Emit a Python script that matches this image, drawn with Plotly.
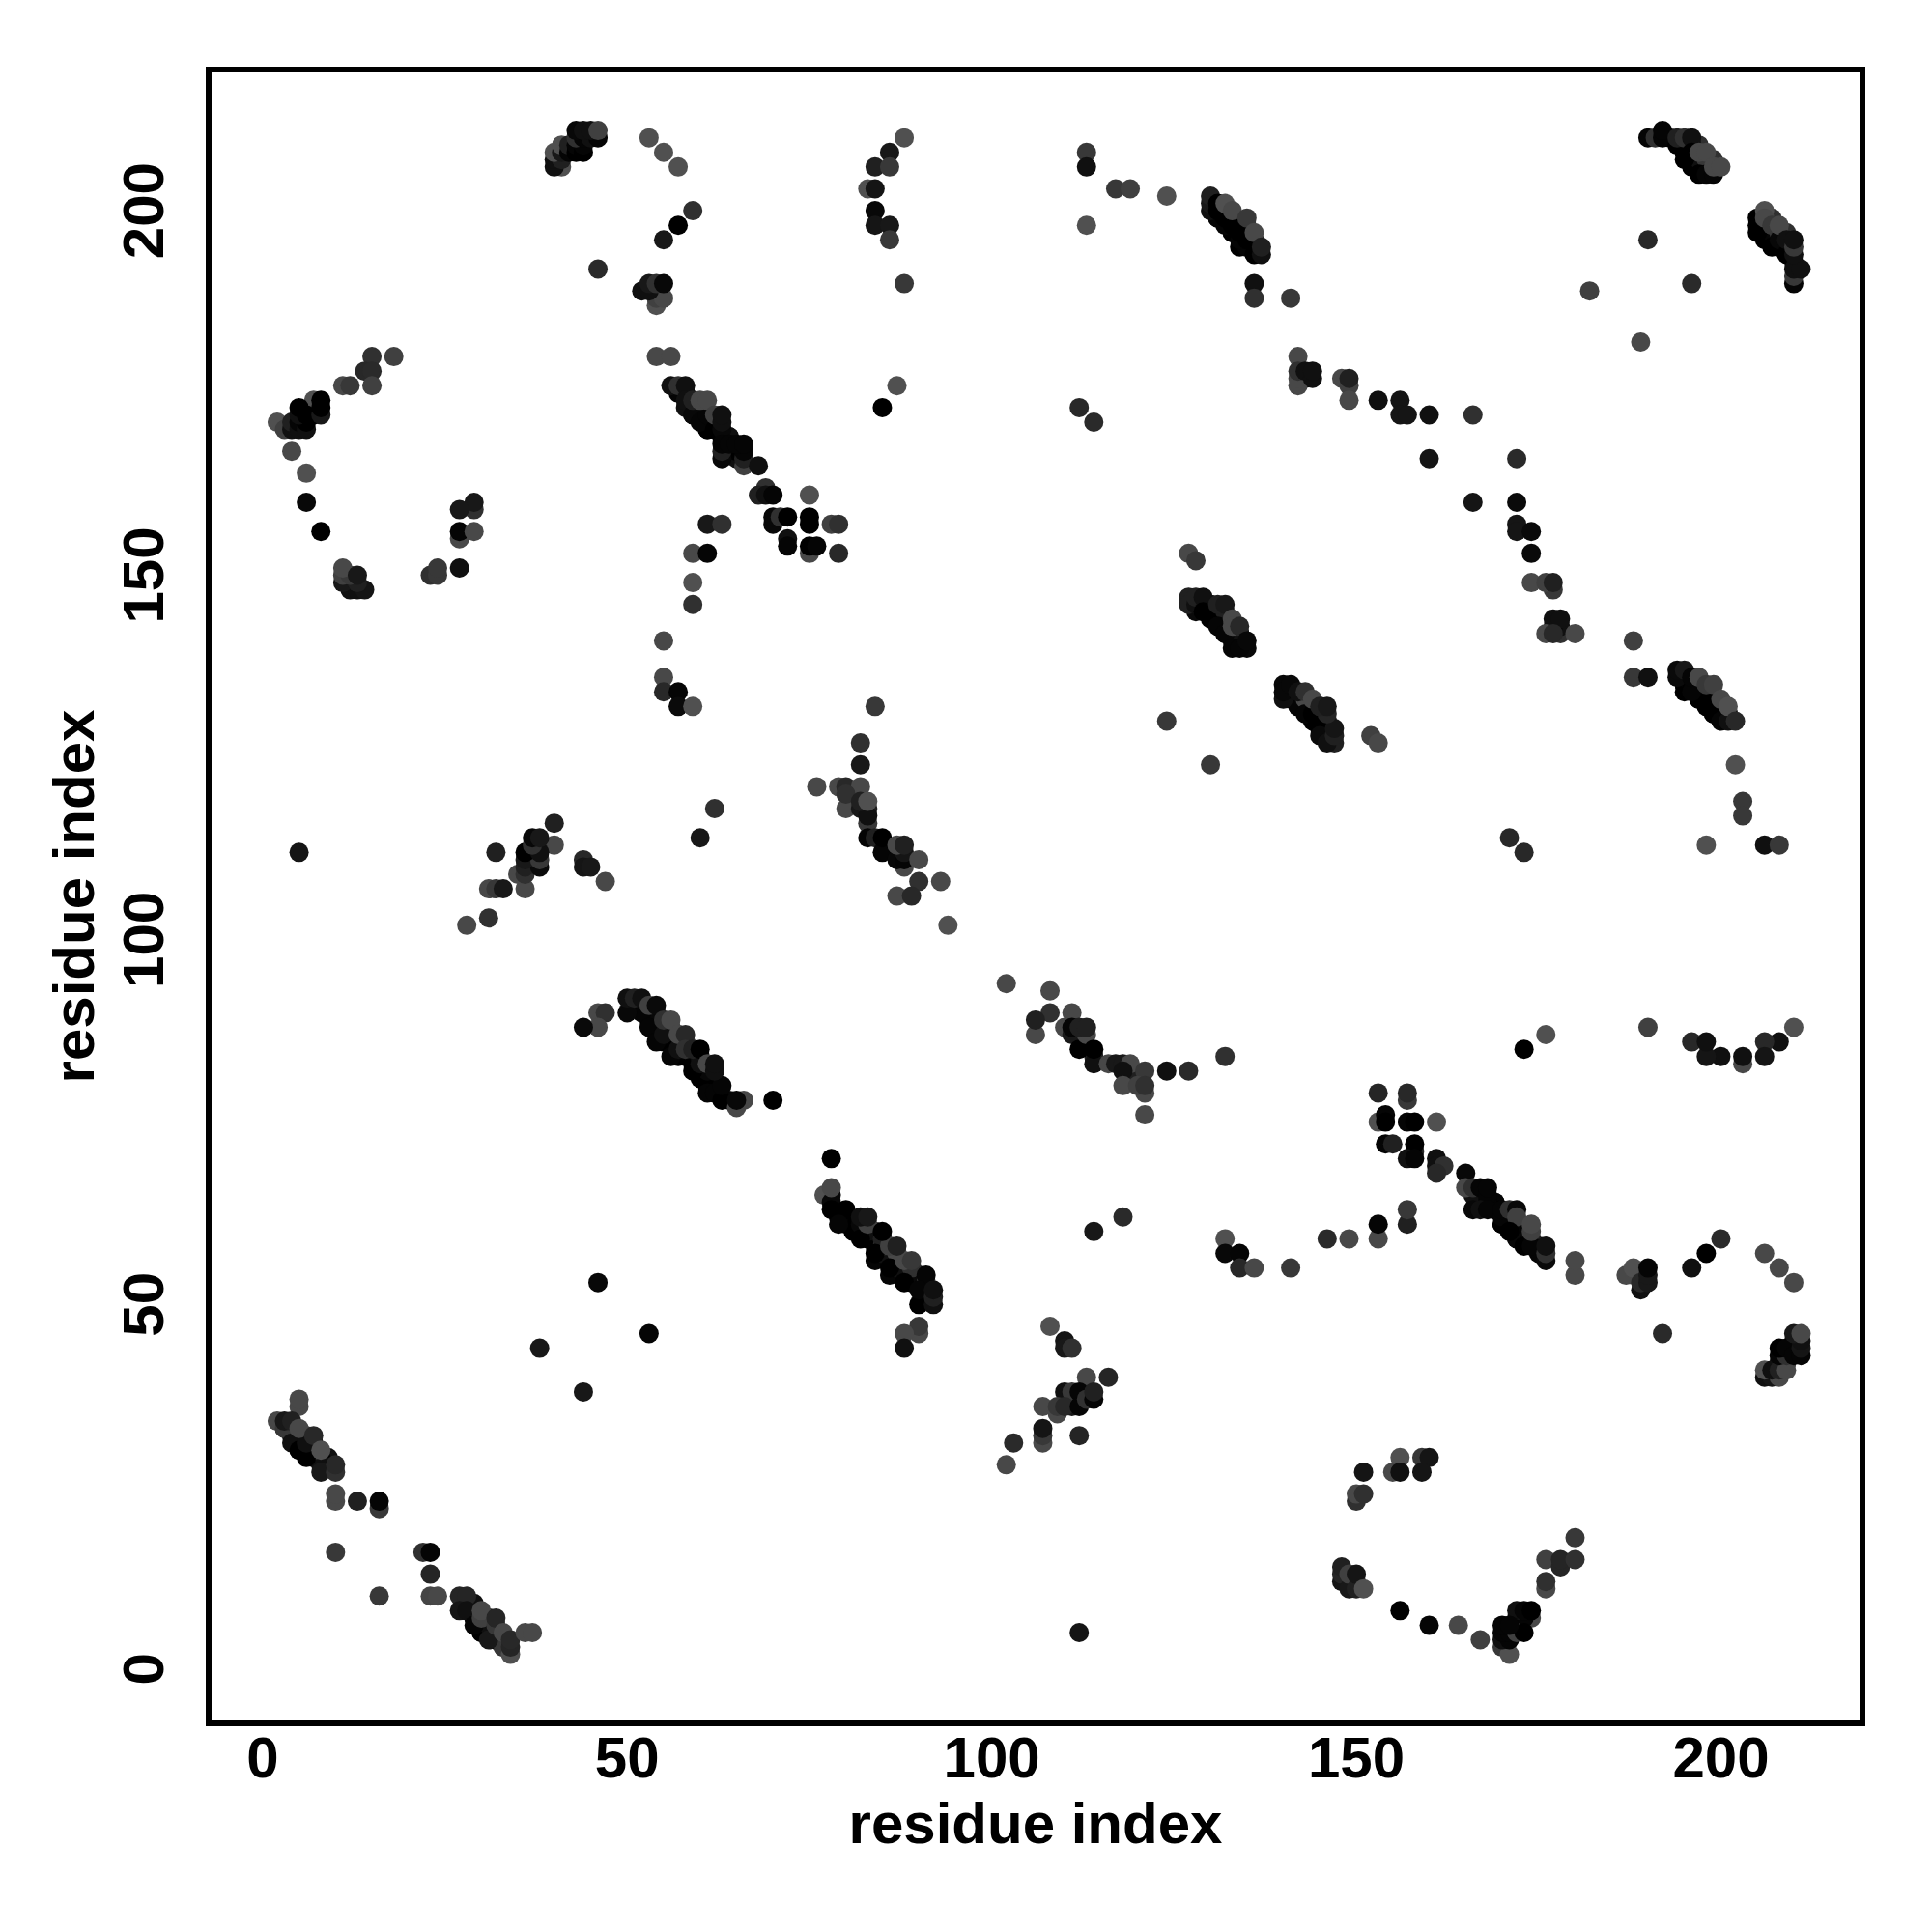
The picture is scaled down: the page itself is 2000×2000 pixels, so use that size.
import plotly.graph_objects as go

# Each region lists contacts as (residue x, residue y, grey level)
top_left = [
 (41,206,0x50),(40,206,0x10),(40,207,0x10),(41,207,0x20),(40,208,0x50),(41,208,0x18),(41,209,0x50),(42,208,0x05),(42,209,0x20),
 (43,208,0x00),(43,209,0x05),(44,208,0x00),(44,209,0x05),(43,210,0x30),(44,210,0x05),(45,210,0x10),(46,210,0x05),(43,211,0x08),(44,211,0x10),(45,211,0x10),(46,211,0x40),
 (53,210,0x50),(55,208,0x50),(57,206,0x50),(59,200,0x30),(57,198,0x00),(55,196,0x18),(46,192,0x2a),
 (54,187,0x50),(54,188,0x40),(55,188,0x48),(52,189,0x10),(53,189,0x10),(53,190,0x18),(54,190,0x30),(55,190,0x08),
 (54,180,0x48),(56,180,0x48),(56,176,0x10),(57,176,0x30),(58,176,0x10),
 (58,173,0x10),(58,174,0x10),(59,172,0x08),(59,174,0x20),(60,171,0x05),(61,172,0x05),(60,174,0x48),(61,174,0x48),(62,170,0x00),(62,172,0x40),(63,170,0x08),(63,171,0x10),(63,172,0x10),
 (63,166,0x08),(63,167,0x20),(63,168,0x05),(64,168,0x05),(66,165,0x40),(66,166,0x20),(66,167,0x05),(65,168,0x05),(66,168,0x05),(68,165,0x10),
 (18,180,0x40),(15,180,0x30),(14,178,0x28),(15,178,0x2a),(15,176,0x40),(11,176,0x48),(12,176,0x38),
 (2,171,0x50),(3,170,0x40),(7,174,0x50),(4,170,0x10),(4,171,0x20),(5,170,0x10),(5,171,0x05),(6,170,0x10),(6,171,0x00),(5,172,0x10),(6,172,0x00),(5,173,0x00),(8,172,0x18),(8,173,0x00),(8,174,0x00),
 (4,167,0x48),(6,164,0x50),(6,160,0x08),(8,156,0x00),
 (29,159,0x30),(29,160,0x18),(27,159,0x18),(27,155,0x48),(27,156,0x05),(29,156,0x48),(27,151,0x10),(23,150,0x30),(24,150,0x38),(24,151,0x38),
 (12,148,0x10),(13,148,0x10),(14,148,0x15),(11,149,0x18),(13,149,0x20),(11,150,0x40),(12,150,0x38),(11,151,0x48),(13,150,0x18),
 (61,157,0x18),(63,157,0x30),(59,153,0x48),(61,153,0x05),(59,149,0x50),(59,146,0x30),
]
top_middle = [
 (69,162,0x30),(68,161,0x20),(69,161,0x10),(70,161,0x05),(75,161,0x50),(70,157,0x08),(70,158,0x08),(71,158,0x30),(72,158,0x00),(75,157,0x00),(75,158,0x00),(78,157,0x40),(79,157,0x30),
 (75,153,0x48),(72,155,0x10),(72,154,0x05),(75,154,0x00),(76,154,0x05),(79,153,0x28),
 (88,210,0x50),(86,208,0x18),(84,206,0x20),(86,206,0x38),(83,203,0x50),(84,203,0x15),(84,200,0x08),(84,198,0x15),(86,198,0x18),(86,196,0x38),(88,190,0x38),(87,176,0x50),(85,173,0x00),
 (113,208,0x38),(113,206,0x10),(117,203,0x38),(119,203,0x40),(124,202,0x50),(113,198,0x50),
 (130,200,0x10),(130,201,0x18),(130,202,0x20),(131,200,0x00),(131,201,0x00),(132,198,0x05),(132,199,0x00),(132,201,0x50),(133,198,0x00),(133,200,0x48),(134,196,0x05),(134,197,0x00),(135,196,0x00),(135,199,0x38),(136,194,0x00),(136,197,0x48),(137,194,0x10),(137,195,0x20),
 (136,190,0x10),(136,188,0x30),(141,188,0x38),(112,173,0x28),(114,171,0x2a),
 (142,180,0x48),(142,177,0x48),(142,178,0x30),(143,178,0x10),
 (127,153,0x48),(128,152,0x38),(127,146,0x20),(128,146,0x10),(128,147,0x20),(129,147,0x10),(129,145,0x00),(131,146,0x20),(132,146,0x18),
 (131,143,0x05),(132,142,0x05),(133,144,0x48),(133,143,0x48),(134,143,0x28),(133,140,0x05),(134,140,0x05),(135,141,0x08),
]
top_right = [
 (144,177,0x10),(144,178,0x10),(148,177,0x48),(149,176,0x40),(149,177,0x20),(149,174,0x48),(153,174,0x10),(156,174,0x15),(156,172,0x15),(157,172,0x15),(160,172,0x10),(166,172,0x30),(160,166,0x15),(172,166,0x2a),
 (166,160,0x15),(172,160,0x0a),(172,157,0x15),(172,156,0x15),(174,156,0x0a),(174,153,0x0a),(174,149,0x48),(177,148,0x38),(176,149,0x40),(177,149,0x20),
 (190,196,0x28),(182,189,0x40),(196,190,0x2a),(189,182,0x48),
 (190,210,0x05),(191,210,0x30),(192,210,0x05),(192,211,0x05),(194,209,0x00),(194,210,0x20),(195,207,0x00),(195,210,0x30),(196,210,0x10),(196,208,0x00),(197,205,0x00),(198,205,0x05),(199,205,0x05),(197,208,0x48),(198,208,0x48),(199,206,0x48),(200,206,0x48),
 (205,197,0x00),(205,198,0x00),(205,199,0x00),(206,200,0x50),(206,199,0x48),(207,195,0x00),(207,198,0x38),(208,196,0x08),(208,198,0x48),(209,194,0x00),(209,196,0x10),
 (210,190,0x05),(210,191,0x38),(210,192,0x10),(211,192,0x10),(210,194,0x10),(210,195,0x38),(210,196,0x10),
]
mid_left = [
 (55,141,0x48),(55,136,0x48),(55,134,0x28),(57,134,0x05),(57,132,0x0a),(59,132,0x50),(5,112,0x15),
 (40,116,0x20),(40,113,0x48),(32,112,0x20),(36,107,0x48),(31,107,0x48),(32,107,0x38),(33,107,0x18),(35,109,0x48),(36,109,0x30),(36,110,0x20),(38,110,0x0a),(36,111,0x18),(38,111,0x38),(36,112,0x00),(38,112,0x10),(37,113,0x30),(37,114,0x08),(38,114,0x18),
 (31,103,0x30),(28,102,0x48),(44,111,0x28),(44,110,0x15),(45,110,0x18),(47,108,0x48),(62,118,0x30),(60,114,0x18),
 (50,90,0x08),(50,92,0x10),(51,92,0x20),(52,92,0x10),(46,90,0x48),(47,90,0x30),(46,88,0x48),(44,88,0x0a),
 (53,88,0x05),(54,86,0x05),(56,84,0x05),(59,82,0x00),(61,79,0x05),(62,79,0x05),(63,78,0x00),(63,80,0x05),(55,87,0x10),(57,85,0x10),(60,83,0x10),
 (53,91,0x40),(54,91,0x0a),(55,89,0x30),(56,89,0x48),(57,87,0x48),(58,87,0x28),(58,85,0x30),(59,85,0x20),(60,85,0x00),(61,83,0x48),(62,82,0x10),(62,83,0x10),
 (66,78,0x48),(65,77,0x48),(65,78,0x08),(70,78,0x00),
]
mid_middle = [
 (84,132,0x38),(82,127,0x30),(82,124,0x18),(76,121,0x48),(79,121,0x48),(80,121,0x28),(82,121,0x48),(80,118,0x48),(80,120,0x30),(82,118,0x18),(83,118,0x20),(83,116,0x38),(83,117,0x10),(82,119,0x20),(83,119,0x50),
 (83,114,0x05),(84,114,0x20),(85,112,0x05),(85,114,0x00),(88,110,0x48),(87,111,0x08),(88,111,0x05),(88,112,0x15),(87,113,0x48),(88,113,0x20),(90,111,0x48),(90,108,0x30),(93,108,0x48),(87,106,0x48),(89,106,0x28),(94,102,0x50),
 (124,130,0x38),(130,124,0x38),(102,94,0x48),(108,93,0x48),(108,90,0x30),(111,90,0x48),(106,87,0x48),(106,89,0x20),
 (110,88,0x48),(111,87,0x18),(111,88,0x05),(112,85,0x00),(113,87,0x48),(112,88,0x20),(113,88,0x20),(114,83,0x10),(114,85,0x00),
 (116,83,0x48),(117,83,0x18),(118,83,0x18),(119,83,0x48),(118,82,0x10),(121,82,0x38),(124,82,0x10),(127,82,0x2a),(132,84,0x30),
 (118,80,0x48),(121,79,0x48),(120,80,0x40),(121,80,0x30),(121,76,0x48),(78,70,0x00),
 (140,133,0x10),(140,134,0x08),(141,135,0x08),(142,134,0x10),(143,131,0x05),(143,134,0x30),(144,131,0x00),(144,133,0x48),
]
mid_right = [
 (145,128,0x0a),(146,127,0x10),(147,128,0x20),(147,129,0x15),(146,131,0x25),(145,132,0x20),(146,132,0x18),(152,128,0x40),(153,127,0x48),
 (177,143,0x00),(177,144,0x10),(178,144,0x10),(176,142,0x48),(177,142,0x28),(180,142,0x48),(188,141,0x40),(188,136,0x38),(190,136,0x10),
 (194,136,0x0a),(194,137,0x0a),(195,137,0x18),(196,134,0x05),(198,132,0x00),(200,130,0x05),(201,130,0x10),(196,136,0x05),(197,136,0x48),(198,135,0x38),(199,135,0x40),(200,133,0x48),(201,132,0x50),(202,130,0x28),
 (202,124,0x50),(203,119,0x38),(203,117,0x38),(198,113,0x50),(206,113,0x10),(208,113,0x38),(171,114,0x28),(173,112,0x28),
 (190,88,0x40),(176,87,0x50),(173,85,0x00),(210,88,0x50),(208,86,0x10),(206,86,0x28),(206,84,0x15),(203,83,0x48),(203,84,0x10),(200,84,0x10),(198,84,0x15),(196,86,0x28),(198,86,0x10),
 (153,79,0x25),(157,78,0x38),(157,79,0x28),(153,75,0x50),(154,76,0x05),(154,75,0x00),(157,75,0x05),(158,75,0x00),(161,75,0x50),
 (154,72,0x05),(155,72,0x20),(158,71,0x28),(158,72,0x00),(157,70,0x10),(158,70,0x05),(161,70,0x10),(161,69,0x10),(162,69,0x30),(161,68,0x28),
]
low_left = [
 (46,53,0x08),(53,46,0x05),(38,44,0x18),(44,38,0x18),
 (5,36,0x48),(5,37,0x48),(2,34,0x48),(3,33,0x38),(3,34,0x18),(4,34,0x20),(4,31,0x10),(5,30,0x00),(6,29,0x00),(6,30,0x00),(6,31,0x10),(5,33,0x48),(7,32,0x28),(8,27,0x18),(8,30,0x50),(10,27,0x30),(10,28,0x28),
 (10,23,0x48),(10,24,0x48),(13,23,0x20),(16,22,0x38),(16,23,0x05),(10,16,0x38),(22,16,0x30),(23,16,0x05),(23,13,0x25),(16,10,0x38),(23,10,0x45),(24,10,0x48),
 (27,10,0x25),(28,10,0x25),(27,8,0x15),(28,8,0x10),(29,6,0x05),(31,4,0x18),(30,7,0x40),(30,8,0x48),(32,6,0x38),(32,7,0x25),(33,5,0x48),(34,2,0x50),(34,3,0x25),(34,4,0x28),(36,5,0x48),(37,5,0x48),
]
low_middle = [
 (77,65,0x50),(78,64,0x08),(78,63,0x00),(78,66,0x48),(80,63,0x00),(79,61,0x05),(82,59,0x00),(84,57,0x00),(86,55,0x00),(88,53,0x00),(83,61,0x40),(86,58,0x40),(88,56,0x48),
 (82,62,0x10),(83,62,0x18),(85,60,0x00),(87,58,0x20),(89,56,0x38),(91,54,0x05),(90,50,0x00),(90,52,0x05),(92,50,0x10),(92,51,0x20),(92,52,0x10),
 (90,46,0x48),(90,47,0x38),(88,46,0x48),(88,44,0x10),(114,60,0x18),(118,62,0x2a),(132,59,0x50),(132,57,0x08),(134,57,0x05),(134,55,0x28),(136,55,0x48),(141,55,0x38),
 (108,47,0x50),(110,45,0x15),(110,44,0x18),(111,44,0x30),(113,40,0x48),(116,40,0x25),(110,38,0x10),(111,38,0x38),(112,38,0x05),(107,36,0x48),(109,35,0x48),(109,36,0x38),(110,36,0x28),(112,36,0x05),(113,37,0x30),(114,37,0x05),(114,38,0x20),
 (107,31,0x48),(107,32,0x38),(107,33,0x15),(112,32,0x25),(103,31,0x2a),(102,28,0x48),(112,5,0x15),
]
low_right = [
 (165,68,0x08),(165,66,0x48),(166,66,0x30),(167,66,0x05),(168,65,0x05),(168,66,0x05),(166,63,0x08),(167,63,0x10),(168,63,0x05),(170,62,0x05),(170,63,0x05),(171,63,0x30),(172,63,0x08),(172,62,0x40),
 (171,60,0x00),(173,58,0x00),(174,58,0x05),(174,60,0x40),(174,61,0x48),(176,56,0x0a),(176,57,0x30),(176,58,0x10),(180,54,0x48),(180,56,0x48),
 (157,61,0x20),(157,63,0x38),(153,59,0x48),(153,61,0x05),(149,59,0x48),(146,59,0x2a),
 (187,54,0x48),(188,55,0x50),(189,52,0x10),(189,53,0x28),(190,53,0x18),(190,54,0x18),(190,55,0x05),(196,55,0x10),(198,57,0x00),(200,59,0x2a),(206,57,0x48),(208,55,0x48),(210,53,0x48),(192,46,0x2a),
 (206,40,0x10),(207,40,0x15),(208,40,0x48),(206,41,0x50),(207,41,0x10),(208,41,0x20),(209,41,0x48),(208,43,0x05),(209,43,0x30),(208,44,0x00),(209,44,0x05),(210,43,0x05),(211,43,0x05),(211,44,0x15),(211,45,0x10),(210,46,0x18),(211,46,0x48),
 (156,29,0x50),(159,29,0x38),(160,29,0x15),(151,27,0x15),(155,27,0x48),(156,27,0x10),(159,27,0x15),(150,23,0x30),(150,24,0x48),(151,24,0x30),
 (180,18,0x38),(176,15,0x40),(178,14,0x25),(178,15,0x25),(180,15,0x30),(176,11,0x48),(176,12,0x30),
 (148,12,0x15),(148,13,0x25),(148,14,0x20),(149,11,0x18),(149,13,0x40),(150,11,0x20),(150,13,0x15),(151,11,0x50),
 (156,8,0x00),(160,6,0x05),(164,6,0x48),(167,4,0x40),
 (174,7,0x48),(172,7,0x05),(173,7,0x05),(172,8,0x10),(173,8,0x05),(174,8,0x00),(170,3,0x38),(171,2,0x50),(170,4,0x10),(171,4,0x05),(170,5,0x05),(171,5,0x05),(172,5,0x40),(173,5,0x00),(170,6,0x05),(171,6,0x05),
]
# contacts hidden inside the dark strands: seen only as solid black under the later dots
strand_core = [
 (83,60,0x05),(84,59,0x00),(85,58,0x00),(86,57,0x05),(87,56,0x00),(88,55,0x00),(89,54,0x05),(90,53,0x00),
 (83,59,0x00),(84,58,0x00),(85,57,0x00),(86,56,0x00),(87,55,0x00),(88,54,0x00),(89,53,0x00),(84,60,0x10),(85,59,0x08),(87,57,0x10),(89,55,0x10),(90,54,0x08),(91,52,0x05),(91,51,0x05),
 (80,62,0x05),(81,61,0x00),(81,60,0x00),(80,61,0x00),(79,62,0x05),(82,60,0x00),(82,61,0x08),
 (4,33,0x10),(4,32,0x05),(5,32,0x05),(5,31,0x00),(6,32,0x18),(7,31,0x10),(7,30,0x00),(7,29,0x00),(8,29,0x00),(8,28,0x05),(9,28,0x10),(9,29,0x10),
 (30,6,0x00),(31,6,0x00),(31,5,0x00),(32,5,0x05),(32,4,0x05),(33,4,0x08),(33,3,0x20),(29,7,0x00),(29,8,0x05),(30,5,0x08),
 (60,172,0x00),(60,173,0x10),(61,171,0x00),(61,170,0x00),(62,171,0x00),(64,167,0x05),(64,169,0x05),(65,167,0x00),(65,166,0x10),(59,173,0x05),(63,169,0x00),
 (129,146,0x05),(130,145,0x00),(130,146,0x10),(131,145,0x05),(131,144,0x00),(132,145,0x10),(132,144,0x00),(132,143,0x05),(133,142,0x00),(133,141,0x05),(134,142,0x08),(134,141,0x00),(135,140,0x08),
 (142,132,0x05),(143,133,0x10),(143,132,0x00),(144,132,0x08),(144,130,0x00),(145,131,0x05),(145,130,0x00),(145,129,0x05),(146,130,0x10),(146,129,0x05),(146,128,0x05),(147,127,0x20),
 (131,199,0x00),(133,197,0x00),(133,199,0x20),(134,198,0x10),(134,195,0x00),(135,195,0x00),(135,197,0x10),(136,195,0x08),(136,196,0x18),
 (195,135,0x05),(195,136,0x05),(196,135,0x00),(197,133,0x00),(197,134,0x00),(197,135,0x20),(198,134,0x10),(198,133,0x00),(199,131,0x05),(199,132,0x00),(199,133,0x10),(200,131,0x05),(200,132,0x10),(201,131,0x08),
 (195,208,0x05),(195,209,0x00),(196,207,0x00),(196,209,0x20),(197,206,0x00),(197,207,0x05),(198,206,0x00),(198,207,0x20),(199,207,0x30),
 (206,197,0x05),(206,196,0x00),(207,196,0x00),(207,197,0x10),(208,195,0x00),(208,197,0x20),(209,195,0x05),(210,193,0x05),(206,198,0x05),(209,197,0x30),
 (167,65,0x00),(168,64,0x00),(169,63,0x00),(170,61,0x00),(171,61,0x00),(171,62,0x05),(172,60,0x00),(172,59,0x00),(173,59,0x00),(173,60,0x08),(174,59,0x05),(175,58,0x05),(175,57,0x05),(169,64,0x10),
]
axis_ticks = [0, 50, 100, 150, 200]
axis_label = "residue index"

regions = [top_left, top_middle, top_right, mid_left, mid_middle, mid_right, low_left, low_middle, low_right]
read = [c for r in regions for c in r]
seen = {(c[0], c[1]) for c in read}
# The map is symmetric: a contact (i, j) is also a contact (j, i)
mirror = [(c[1], c[0], c[2]) for c in read if (c[1], c[0]) not in seen]
core = strand_core + [(c[1], c[0], c[2]) for c in strand_core]
contacts = core + mirror + read
xs = [c[0] for c in contacts]
ys = [c[1] for c in contacts]
cols = [f"rgb({c[2]},{c[2]},{c[2]})" for c in contacts]

FONT = "Liberation Sans"
fig = go.Figure(go.Scatter(x=xs, y=ys, mode="markers",
                           marker=dict(size=20, color=cols, line=dict(width=0))))
axis = dict(tickvals=axis_ticks, showgrid=False, zeroline=False,
            showline=True, mirror=True, linecolor="black", linewidth=6,
            ticks="", ticklen=0,
            tickfont=dict(family=FONT, size=60, color="black", weight="bold"))
fig.update_xaxes(**axis, range=[-7.0, 219.02], ticklabelstandoff=-19,
                 title=dict(text=axis_label, standoff=16,
                 font=dict(family=FONT, size=60, color="black", weight="bold")))
fig.update_yaxes(**axis, range=[-7.06, 218.96], tickangle=-90, ticklabelstandoff=20,
                 ticklabelshift=9,
                 title=dict(text=axis_label, standoff=0,
                 font=dict(family=FONT, size=60, color="black", weight="bold")))
fig.update_layout(width=2000, height=2000, autosize=False, showlegend=False,
                  plot_bgcolor="white", paper_bgcolor="white",
                  margin=dict(l=211, r=83, t=67, b=227, autoexpand=False))
fig.write_html("out.html")
